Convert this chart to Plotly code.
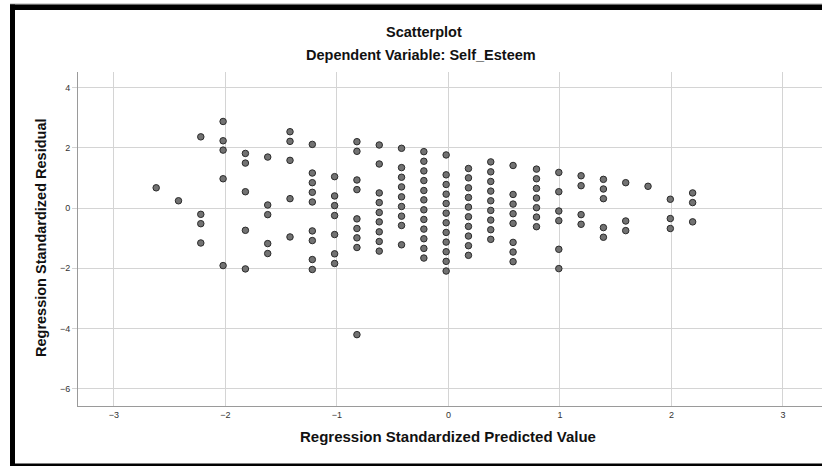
import plotly.graph_objects as go

# ---- data ----
pred_values = [-2.62, -2.42, -2.22, -2.02, -1.82, -1.62, -1.42, -1.22, -1.02, -0.82,
               -0.62, -0.42, -0.22, -0.02, 0.18, 0.38, 0.58, 0.79, 0.99, 1.19,
               1.39, 1.59, 1.79, 1.99, 2.19]
residuals = [
    [0.67],
    [0.24],
    [2.36, -0.21, -0.52, -1.16],
    [2.87, 2.23, 1.92, 0.97, -1.91],
    [1.81, 1.49, 0.54, -0.74, -2.02],
    [1.69, 0.10, -0.22, -1.18, -1.51],
    [2.53, 2.21, 1.58, 0.31, -0.96],
    [2.11, 1.16, 0.84, 0.52, 0.20, -0.76, -1.08, -1.71, -2.04],
    [1.04, 0.40, 0.08, -0.25, -0.88, -1.52, -1.84],
    [2.20, 1.88, 0.93, 0.61, -0.36, -0.68, -0.99, -1.31, -4.20],
    [2.09, 1.46, 0.50, 0.18, -0.15, -0.46, -0.79, -1.11, -1.43],
    [1.98, 1.34, 1.02, 0.70, 0.37, 0.05, -0.27, -0.58, -1.22],
    [1.87, 1.55, 1.23, 0.91, 0.58, 0.27, -0.06, -0.38, -0.70, -1.02, -1.34, -1.66],
    [1.76, 1.10, 0.78, 0.46, 0.15, -0.17, -0.49, -0.81, -1.13, -1.45, -1.77, -2.09],
    [1.31, 1.00, 0.67, 0.35, 0.03, -0.29, -0.61, -0.93, -1.25, -1.57],
    [1.53, 1.20, 0.88, 0.56, 0.24, -0.08, -0.40, -0.72, -1.04],
    [1.41, 0.45, 0.13, -0.19, -0.51, -1.14, -1.46, -1.78],
    [1.29, 0.97, 0.65, 0.33, 0.01, -0.30, -0.62],
    [1.18, 0.54, -0.10, -0.42, -1.37, -2.01],
    [1.07, 0.74, -0.22, -0.54],
    [0.95, 0.63, 0.31, -0.65, -0.97],
    [0.84, -0.43, -0.75],
    [0.72],
    [0.29, -0.35, -0.68],
    [0.50, 0.18, -0.46],
]
x_ticks = [-3, -2, -1, 0, 1, 2, 3]
y_ticks = [-6, -4, -2, 0, 2, 4]

title_text = "Scatterplot"
subtitle_text = "Dependent Variable: Self_Esteem"
x_title = "Regression Standardized Predicted Value"
y_title = "Regression Standardized Residual"

xs, ys = [], []
for xv, col in zip(pred_values, residuals):
    for r in col:
        xs.append(xv)
        ys.append(r)

# ---- layout geometry ----
W, H = 822, 466
L, R, T, B = 78, 0, 72, 60
PW, PH = W - L - R, H - T - B


def px(x):
    return (x - L) / PW


def py(y):
    return (H - B - y) / PH


FONT = "Liberation Sans, Arial, sans-serif"

fig = go.Figure()
fig.add_trace(go.Scatter(
    x=xs, y=ys, mode="markers",
    marker=dict(size=6.5, color="#727272", line=dict(color="#2b2b2b", width=1)),
    hoverinfo="x+y", showlegend=False,
))

fig.update_layout(
    width=W, height=H,
    margin=dict(l=L, r=R, t=T, b=B, autoexpand=False),
    paper_bgcolor="white", plot_bgcolor="white",
    font=dict(family=FONT, color="#222"),
    xaxis=dict(range=[-3.321, 3.35], tickvals=x_ticks, showgrid=True,
               gridcolor="#d4d4d4", gridwidth=1, zeroline=False,
               showline=True, linecolor="#9a9a9a", linewidth=1,
               ticks="", tickfont=dict(size=9, color="#333"), fixedrange=True),
    yaxis=dict(range=[-6.567, 4.511], tickvals=y_ticks, showgrid=True,
               gridcolor="#d4d4d4", gridwidth=1, zeroline=False,
               showline=True, linecolor="#9a9a9a", linewidth=1,
               ticks="outside", ticklen=5, tickcolor="#d4d4d4",
               tickfont=dict(size=9, color="#333"), fixedrange=True),
)

annos = [
    dict(text="<b>" + title_text + "</b>", x=px(424), y=py(32), size=14.5),
    dict(text="<b>" + subtitle_text + "</b>", x=px(421), y=py(55), size=14.5),
    dict(text="<b>" + x_title + "</b>", x=px(448), y=py(437), size=15),
]
for a in annos:
    fig.add_annotation(text=a["text"], x=a["x"], y=a["y"], xref="paper", yref="paper",
                       showarrow=False, xanchor="center", yanchor="middle",
                       font=dict(size=a["size"], family=FONT, color="#111"))
fig.add_annotation(text="<b>" + y_title + "</b>", x=px(41), y=py(238), xref="paper",
                   yref="paper", showarrow=False, textangle=-90,
                   xanchor="center", yanchor="middle",
                   font=dict(size=14.5, family=FONT, color="#111"))

# frame around the chart (as in the SPSS output)
frame = [
    dict(x0=10, x1=822, y0=3.5, y1=4.5, color="#aaaaaa"),
    dict(x0=10, x1=822, y0=4.5, y1=10, color="black"),
    dict(x0=10, x1=15, y0=4.5, y1=466, color="black"),
    dict(x0=10, x1=822, y0=463.5, y1=466, color="black"),
]
for f in frame:
    fig.add_shape(type="rect", xref="paper", yref="paper",
                  x0=px(f["x0"]), x1=px(f["x1"]), y0=py(f["y0"]), y1=py(f["y1"]),
                  fillcolor=f["color"], line=dict(width=0), layer="above")

fig.write_html(
    "out.html",
    config={"displayModeBar": False},
    post_script=("document.body.style.margin='0';"
                 "document.body.style.overflow='hidden';"
                 "document.documentElement.style.overflow='hidden';"),
)
